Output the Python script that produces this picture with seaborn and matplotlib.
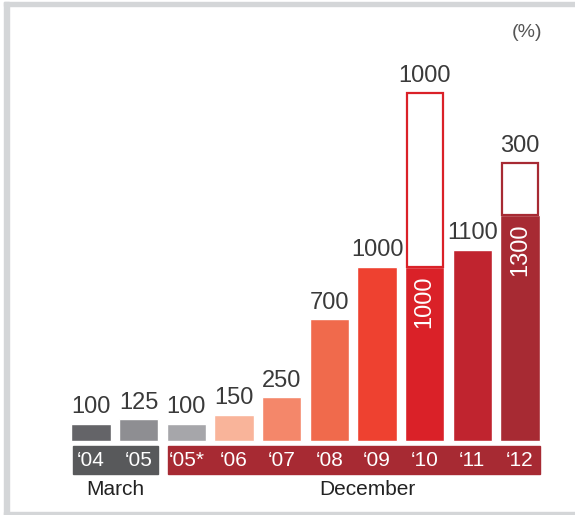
import numpy as np
import pandas as pd
import matplotlib
matplotlib.use("Agg")
import matplotlib.pyplot as plt
from matplotlib.patches import Rectangle
import seaborn as sns

# data
years = ["\u201804", "\u201805", "\u201805*", "\u201806", "\u201807",
         "\u201808", "\u201809", "\u201810", "\u201811", "\u201812"]
values = [100, 125, 100, 150, 250, 700, 1000, 1000, 1100, 1300]
extra = [0, 0, 0, 0, 0, 0, 0, 1000, 0, 300]
bar_colors = ["#646468", "#8e8e92", "#a6a6aa", "#f9b49a", "#f4876a",
              "#f06a4c", "#ee4130", "#da2128", "#c0242f", "#a72a33"]
groups = ["March", "December"]

sns.set_style("white")
plt.rcParams['font.family'] = ['Liberation Sans', 'DejaVu Sans']

txt = "#3a3a3a"
df = pd.DataFrame({"year": years, "value": values})

fig = plt.figure(figsize=(5.75, 5.15), dpi=100)
ax = fig.add_axes([0, 0, 1, 1])

sns.barplot(data=df, x="year", y="value", hue="year", palette=bar_colors,
            order=years, hue_order=years, width=0.82, legend=False,
            saturation=1, ax=ax)

# outlined bars stacked on top of '10 and '12
xs = np.arange(len(years))
for i in range(len(years)):
    if extra[i] > 0:
        ax.bar(xs[i], extra[i], bottom=values[i], width=0.76, fill=False,
               edgecolor=bar_colors[i], linewidth=1.6)

# value labels
for i in range(len(years)):
    if extra[i] > 0:
        ax.annotate(str(extra[i]), (xs[i], values[i] + extra[i]),
                    xytext=(0, 4), textcoords="offset points",
                    ha="center", va="bottom", fontsize=17, color=txt)
        ax.annotate(str(values[i]), (xs[i], values[i]),
                    xytext=(0, -6), textcoords="offset points",
                    ha="center", va="top", rotation=90, fontsize=17,
                    color="white")
    else:
        ax.annotate(str(values[i]), (xs[i], values[i]),
                    xytext=(0, 4), textcoords="offset points",
                    ha="center", va="bottom", fontsize=17, color=txt)

# label strips under the bars
ax.add_patch(Rectangle((-0.378, -190), 1.783, 161, color="#58595b", clip_on=False))
ax.add_patch(Rectangle((1.615, -190), 7.804, 161, color="#a72a33", clip_on=False))
for i in range(len(years)):
    ax.text(xs[i], -112, years[i], ha="center", va="center",
            fontsize=15, color="white")

ax.text(0.52, -280, groups[0], ha="center", va="center", fontsize=15, color="#222222")
ax.text(5.79, -280, groups[1], ha="center", va="center", fontsize=15, color="#222222")
ax.text(9.15, 2350, "(%)", ha="center", va="center", fontsize=14, color="#555555")

ax.set_xlim(-1.909, 10.153)
ax.set_ylim(-425.3, 2534.5)
ax.axis("off")

# light frame: left, top and bottom edges only
W, H = 575, 515
frame = "#d4d6d8"
fig.patches.append(Rectangle((4 / W, 0), 5 / W, 1 - 2 / H, transform=fig.transFigure,
                             color=frame))
fig.patches.append(Rectangle((4 / W, 1 - 6 / H), 1, 4 / H, transform=fig.transFigure,
                             color=frame))
fig.patches.append(Rectangle((4 / W, 0), 1, 3 / H, transform=fig.transFigure,
                             color=frame))

fig.savefig("out.png", dpi=100)
